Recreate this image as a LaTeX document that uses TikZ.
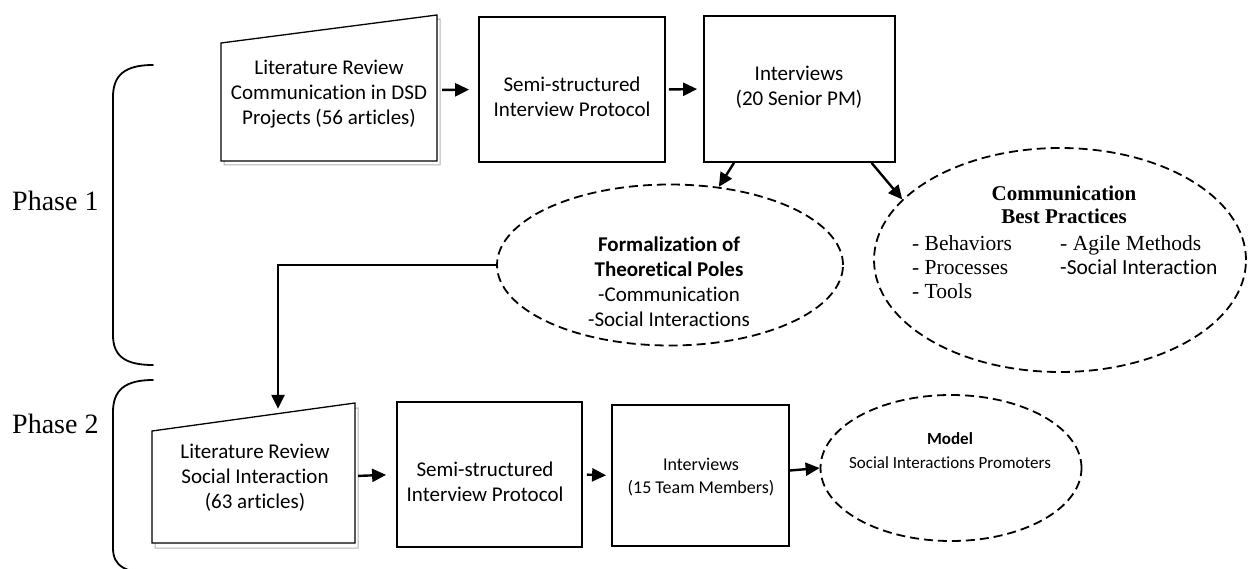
\documentclass[tikz,border=0pt]{standalone}
\usepackage{fontspec}
\setmainfont{Liberation Serif}
\newfontfamily\calibri[Ligatures=NoCommon]{Carlito}
\usetikzlibrary{arrows.meta,shapes.geometric,calc}

\tikzset{
  sanstext/.style={font=\calibri\fontsize{21}{25}\selectfont, align=center, inner sep=0pt},
  smallsans/.style={font=\calibri\fontsize{18}{23.5}\selectfont, align=center, inner sep=0pt},
  stepbox/.style={draw, line width=1.8pt, inner sep=0pt},
  anchorbox/.style={draw=none, inner sep=0pt},
  outcome/.style={ellipse, draw, line width=1.8pt, dash pattern=on 9pt off 5pt, inner sep=0pt},
  flow/.style={-{Triangle[length=14pt,width=13pt]}, line width=2.4pt},
  docline/.style={line width=1.3pt},
  docshadow/.style={line width=1pt, draw=black!30},
  phasebrace/.style={line width=1.8pt, line cap=round},
  phaselabel/.style={font=\fontsize{28}{32}\selectfont, inner sep=0pt, anchor=base west},
}

\begin{document}
\begin{tikzpicture}[x=1pt, y=-1pt]
\useasboundingbox (0,0) rectangle (1249,569);

% ---------- Phase 1 ----------
% literature review document (manual-input outline with shadow copy)
\draw[docshadow] (224,48) -- (440,19) -- (440,165) -- (224,165) -- cycle;
\draw[docline, fill=white] (221,43) -- (437,15) -- (437,161) -- (221,161) -- cycle;
\node[anchorbox, minimum width=216pt, minimum height=140pt] (lit1) at (329,90) {};
\node[sanstext] (lit1txt) at (329,94) {Literature Review\\Communication in DSD\\Projects (56 articles)};

\node[stepbox, minimum width=186pt, minimum height=145pt] (semi1) at (572,89.5) {};
\node[sanstext] (semi1txt) at (572,97) {Semi-structured\\Interview Protocol};

\node[stepbox, minimum width=191pt, minimum height=146pt] (int1) at (799.5,89) {};
\node[sanstext] (int1txt) at (799,87) {Interviews\\(20 Senior PM)};

\node[outcome, minimum width=346pt, minimum height=161pt] (form) at (670,265) {};
\node[sanstext] (formtxt) at (669,282) {\textbf{Formalization of}\\\textbf{Theoretical Poles}\\-Communication\\-Social Interactions};

\node[outcome, minimum width=372pt, minimum height=224pt] (bp) at (1060,260) {};
\node[font=\fontsize{21}{23}\selectfont\bfseries, align=center, inner sep=0pt] (bptitle) at (1064,205) {Communication\\Best Practices};
\node[font=\fontsize{21.5}{24}\selectfont, inner sep=0pt, anchor=base west] (bplist) at (912,251)
  {\begin{tabular}[t]{@{}p{148pt}@{}l@{}}
   - Behaviors & - Agile Methods\\
   - Processes & {\calibri\fontsize{21.5}{24}\selectfont -Social Interaction}\\
   - Tools &
   \end{tabular}};

\draw[flow, shorten <=5pt, shorten >=9pt] (lit1.east) -- (semi1.west);
\draw[flow, shorten <=3pt, shorten >=6pt] (semi1.east) -- (int1.west);
\draw[flow] ($(int1.south west)!0.16!(int1.south east)$) -- (form.58);
\draw[flow] ($(int1.south west)!0.874!(int1.south east)$) -- (bp.159);

% ---------- Phase 2 ----------
\draw[docshadow] (155,436) -- (358,408) -- (358,548) -- (155,548) -- cycle;
\draw[docline, fill=white] (152,431) -- (355,403) -- (355,543) -- (152,543) -- cycle;
\node[anchorbox, minimum width=203pt, minimum height=134pt] (lit2) at (253.5,476) {};
\node[sanstext] (lit2txt) at (255,478) {Literature Review\\Social Interaction\\(63 articles)};

\node[stepbox, minimum width=185pt, minimum height=145pt] (semi2) at (489.5,474.5) {};
\node[sanstext] (semi2txt) at (485,482) {Semi-structured\\Interview Protocol};

\node[stepbox, minimum width=177pt, minimum height=141pt] (int2) at (700.5,475.5) {};
\node[smallsans] (int2txt) at (701,477) {Interviews\\(15 Team Members)};

\node[outcome, minimum width=261pt, minimum height=146pt] (model) at (951,468) {};
\node[smallsans, font=\calibri\fontsize{17}{24}\selectfont] (modeltxt) at (950,451) {\textbf{Model}\\Social Interactions Promoters};

\coordinate (bend) at (278,265);
\draw[flow] (form.west) -- (bend) -- (bend |- lit2.north);
\draw[flow, shorten <=3pt, shorten >=10pt] (lit2.east) -- (semi2.west);
\draw[flow, shorten <=4pt, shorten >=5pt] (semi2.east) -- (int2.west);
\path (int2.east) ++(0,-5) coordinate (int2out);
\draw[flow] (int2out) -- (model.west);

% ---------- phase brackets ----------
\draw[phasebrace] (153,65) .. controls (125,65) and (113,75) .. (113,97) -- (113,335)
  .. controls (113,356) and (125,365) .. (153,365);
\draw[phasebrace] (153,380) .. controls (125,380) and (113,390) .. (113,412) -- (113,548)
  .. controls (113,566) and (125,573) .. (153,573);
\node[phaselabel] (phase1) at (12,211) {Phase 1};
\node[phaselabel] (phase2) at (12,433) {Phase 2};
\end{tikzpicture}
\end{document}
